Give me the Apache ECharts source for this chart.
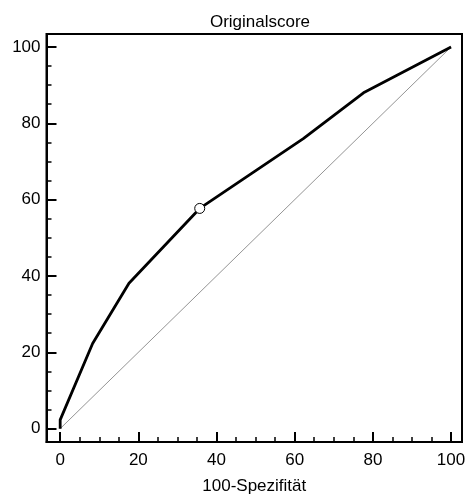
<!DOCTYPE html>
<html>
<head>
<meta charset="utf-8">
<script src="https://cdn.jsdelivr.net/npm/echarts@6/dist/echarts.min.js"></script>
<style>
  html, body { margin: 0; padding: 0; background: #fff; }
  #chart { width: 467px; height: 494px; }
</style>
</head>
<body>
<div id="chart"></div>
<script>
// ROC curve points (100-Spezifität, Sensitivität)
const rocX = [0, 0, 8.3, 17.6, 35.7, 62.2, 77.6, 100];
const rocY = [0, 2.3, 22.3, 38.1, 57.7, 76, 88, 100];
// marked cut-off point
const cutX = [35.7];
const cutY = [57.7];
// reference diagonal
const diagX = [0, 100];
const diagY = [0, 100];
// ticks
const majorTicks = [0, 20, 40, 60, 80, 100];
const minorTicks = [0, 5, 10, 15, 20, 25, 30, 35, 40, 45, 50, 55, 60, 65, 70, 75, 80, 85, 90, 95, 100];

const font = 'Liberation Sans, Arial, sans-serif';

// a labelled axis with long ticks plus an unlabelled twin carrying the short ticks
function axisPair(min, max, extra) {
  const major = Object.assign({
    type: 'value', min, max,
    axisLine: { show: true, onZero: false, lineStyle: { color: '#000', width: 2 } },
    axisTick: { show: true, inside: true, length: 10, customValues: majorTicks,
      lineStyle: { color: '#000', width: 2 } },
    splitLine: { show: false }
  }, extra);
  const minor = {
    type: 'value', min, max,
    position: extra.position,
    axisLine: { show: false, onZero: false },
    axisTick: { show: true, inside: true, length: 5, customValues: minorTicks,
      lineStyle: { color: '#000', width: 1.5 } },
    axisLabel: { show: false },
    splitLine: { show: false }
  };
  return [major, minor];
}

const chart = echarts.init(document.getElementById('chart'));
chart.setOption({
  animation: false,
  backgroundColor: '#fff',
  title: {
    text: 'Originalscore',
    left: 255, top: 9, textAlign: 'center',
    textStyle: { color: '#000', fontSize: 17, fontWeight: 'normal', fontFamily: font }
  },
  grid: {
    left: 46.5, right: 5, top: 34, bottom: 52,
    outerBoundsMode: 'none',
    show: true, borderColor: '#000', borderWidth: 2, backgroundColor: 'transparent'
  },
  xAxis: axisPair(-3.5, 102.8, {
    position: 'bottom',
    name: '100-Spezifität', nameLocation: 'middle', nameGap: 36,
    nameTextStyle: { color: '#000', fontSize: 17, fontFamily: font },
    axisLabel: { show: true, customValues: majorTicks, color: '#000', fontSize: 17, fontFamily: font, margin: 10 }
  }),
  yAxis: axisPair(-3.5, 103.4, {
    position: 'left',
    axisLabel: { show: true, customValues: majorTicks, color: '#000', fontSize: 17, fontFamily: font, margin: 6 }
  }),
  series: [
    {
      type: 'line',
      data: diagX.map((x, i) => [x, diagY[i]]),
      symbol: 'none',
      lineStyle: { color: '#666', width: 0.7 },
      z: 1
    },
    {
      type: 'line',
      data: rocX.map((x, i) => [x, rocY[i]]),
      symbol: 'none',
      lineStyle: { color: '#000', width: 2.8 },
      z: 2
    },
    {
      type: 'scatter',
      data: cutX.map((x, i) => [x, cutY[i]]),
      symbol: 'circle',
      symbolSize: 10,
      itemStyle: { color: '#fff', borderColor: '#000', borderWidth: 1, opacity: 1 },
      z: 3
    }
  ]
});
</script>
</body>
</html>
